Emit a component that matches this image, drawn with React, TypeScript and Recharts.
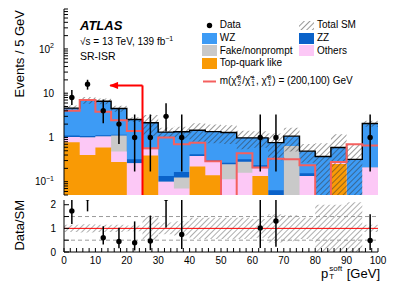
import React from 'react';
import {
  ComposedChart,
  Area,
  Line,
  Scatter,
  ErrorBar,
  XAxis,
  YAxis,
  ReferenceLine,
} from 'recharts';

// 5 GeV bins in pT^soft
const binLow = [0, 5, 10, 15, 20, 25, 30, 35, 40, 45, 50, 55, 60, 65, 70, 75, 80, 85, 90, 95];
const binCentre = [2.5, 7.5, 12.5, 17.5, 22.5, 27.5, 32.5, 37.5, 42.5, 47.5, 52.5, 57.5, 62.5, 67.5, 72.5, 77.5, 82.5, 87.5, 92.5, 97.5];

// background yields per bin (events / 5 GeV), bottom of stack first
const topQuark = [0.78, 0.4, 0.59, 0.28, 0, 0.39, 0, 0, 0.22, 0.14, 0, 0, 0.135, 0, 0, 0, 0, 0.25, 0, 0];
const others = [0.24, 0.6, 0.46, 0.2, 0.26, 0.15, 0.1, 0.07, 0.16, 0.15, 0.114, 0.16, 0.065, 0, 0, 0.135, 0, 0.033, 0, 0.21];
const fakes = [0, 0, 0, 0.62, 0, 0, 0, 0.054, 0, 0, 0.133, 0.124, 0, 0, 0.64, 0, 0, 0, 0, 0];
const zz = [0.08, 0.08, 0.07, 0.05, 0.06, 0.03, 0.035, 0.042, 0.035, 0.02, 0.02, 0.036, 0.035, 0.064, 0, 0.02, 0, 0, 0, 0];
const wz = [3.5, 5.92, 5.48, 3.35, 2.23, 1.57, 1.185, 1.18, 1.035, 1.04, 1.03, 0.66, 0.745, 0.7, 0.43, 0.335, 0.37, 0.31, 0.32, 1.85];
const systUnc = [0.15, 0.17, 0.15, 0.15, 0.12, 0.5, 0.25, 0.3, 0.45, 0.45, 0.45, 0.45, 0.4, 0.6, 0.55, 0.45, 1.0, 1.0, 1.1, 0.15];

// signal m(chi2/chi1+-, chi1) = (200,100) GeV
const signal = [4.0, 7.0, 3.8, 2.45, 1.4, 0.57, 1.0, 0.7, 0.76, 0.29, 0.045, 0.44, 0.21, 0.33, 0.32, 0.235, 0.045, 0.28, 0.7, 0.66];

// observed data
const dataCounts = [8, 16, 4, 2, 1, 1, 3, 1, 0, 0, 0, 0, 1, 1, 0, 0, 0, 0, 0, 1];
const dataErrDown = [2.57, 3.96, 1.91, 1.29, 0.83, 0.83, 1.63, 0.83, 0, 0, 0, 0, 0.83, 0.83, 0, 0, 0, 0, 0, 0.83];
const dataErrUp = [3.76, 4.13, 3.16, 2.64, 2.3, 2.3, 2.92, 2.3, 0, 0, 0, 0, 2.3, 2.3, 0, 0, 0, 0, 0, 2.3];

// SR-ISR cut arrow
const cutValue = 25;
const arrowLevel = 15;
const arrowTip = 14.7;

const xTicks = [0, 2, 4, 6, 8, 10, 12, 14, 16, 18, 20, 22, 24, 26, 28, 30, 32, 34, 36, 38, 40, 42, 44, 46, 48, 50, 52, 54, 56, 58, 60, 62, 64, 66, 68, 70, 72, 74, 76, 78, 80, 82, 84, 86, 88, 90, 92, 94, 96, 98, 100];
const mainYTicks = [0.05, 0.06, 0.07, 0.08, 0.09, 0.1, 0.2, 0.3, 0.4, 0.5, 0.6, 0.7, 0.8, 0.9, 1, 2, 3, 4, 5, 6, 7, 8, 9, 10, 20, 30, 40, 50, 60, 70, 80, 90, 100, 200, 300, 400, 500, 600, 700, 800];
const mainYLabels: Record<string, [string, string]> = {
  '0.1': ['10', '\u22121'],
  '1': ['1', ''],
  '10': ['10', ''],
  '100': ['10', '2'],
};
const ratioTicks = [0, 0.5, 1, 1.5, 2];

const FONT = '"Liberation Sans", Arial, Helvetica, sans-serif';
const C_WZ = '#3d9bf5';
const C_ZZ = '#0a62c9';
const C_FAKE = '#c9c9c9';
const C_OTH = '#fcc8f6';
const C_TOP = '#f99a05';
const C_SIG = '#f4605f';

const LOG_FLOOR = 1e-3;
const pos = (v: number) => (v > 0 ? v : LOG_FLOOR);

const stackRows = [...binLow, 100].map((x, k) => {
  const i = Math.min(k, binLow.length - 1);
  const c1 = topQuark[i];
  const c2 = c1 + others[i];
  const c3 = c2 + fakes[i];
  const c4 = c3 + zz[i];
  const total = c4 + wz[i];
  return {
    x,
    top: pos(c1),
    oth: pos(c2),
    fake: pos(c3),
    zz: pos(c4),
    total,
    band: [pos(total * (1 - systUnc[i])), total * (1 + systUnc[i])],
    ratioBand: [Math.max(1 - systUnc[i], 0), 1 + systUnc[i]],
    signal: signal[i],
  };
});

const dataPoints = binCentre
  .map((x, i) => ({ x, y: dataCounts[i], err: [dataErrDown[i], dataErrUp[i]] }))
  .filter((p) => p.y > 0);

const ratioPoints = binCentre
  .map((x, i) => {
    const total = stackRows[i].total;
    return { x, y: dataCounts[i] / total, err: [dataErrDown[i] / total, dataErrUp[i] / total] };
  })
  .filter((p) => p.y > 0);

const Dot = (p: any) => <circle cx={p.cx} cy={p.cy} r={2.7} fill="#000" />;

const LogTick = (p: any) => {
  const lab = mainYLabels[String(p.payload.value)];
  if (!lab) return <g />;
  return (
    <text x={p.x} y={p.y} dy={3.6} textAnchor="end" fontSize={10} fontFamily={FONT} fill="#000">
      {lab[0]}
      {lab[1] && (
        <tspan dy={-4.5} fontSize={7}>
          {lab[1]}
        </tspan>
      )}
    </text>
  );
};

const RatioTick = (p: any) => {
  const v = p.payload.value;
  if (v % 1 !== 0) return <g />;
  return (
    <text x={p.x} y={p.y} dy={3.6} textAnchor="end" fontSize={10} fontFamily={FONT} fill="#000">
      {v}
    </text>
  );
};

const ArrowShape = (p: any) => (
  <line x1={p.x1} y1={p.y1} x2={p.x2} y2={p.y2} stroke="#ff0000" strokeWidth={2} markerEnd="url(#arrowHead)" />
);

const SupSub = ({ sup, sub, size }: { sup: string; sub: string; size: number }) => (
  <span
    style={{
      display: 'inline-flex',
      flexDirection: 'column',
      fontSize: size,
      lineHeight: 1,
      verticalAlign: 'middle',
      margin: '0 1px',
    }}
  >
    <span>{sup}</span>
    <span>{sub}</span>
  </span>
);

const Swatch = ({ kind, color }: { kind: string; color?: string }) => (
  <svg width={15} height={11} style={{ marginRight: 3, flex: 'none' }}>
    {kind === 'box' && <rect x={0} y={0} width={15} height={11} fill={color} />}
    {kind === 'hatch' && <rect x={0} y={1} width={15} height={9} fill="url(#hatchDark)" />}
    {kind === 'dot' && <circle cx={7.5} cy={5.5} r={2.7} fill="#000" />}
    {kind === 'line' && <line x1={1} y1={5.5} x2={14} y2={5.5} stroke={C_SIG} strokeWidth={2} />}
  </svg>
);

const legendItems = [
  { left: 201.7, yc: 25, kind: 'dot', label: 'Data' },
  { left: 299, yc: 25, kind: 'hatch', label: 'Total SM' },
  { left: 201.7, yc: 38, kind: 'box', color: C_WZ, label: 'WZ' },
  { left: 299, yc: 38, kind: 'box', color: C_ZZ, label: 'ZZ' },
  { left: 201.7, yc: 50.7, kind: 'box', color: C_FAKE, label: 'Fake/nonprompt' },
  { left: 299, yc: 50.7, kind: 'box', color: C_OTH, label: 'Others' },
  { left: 201.7, yc: 63, kind: 'box', color: C_TOP, label: 'Top-quark like' },
];

const axisStroke = { stroke: '#000', strokeWidth: 1 };

export default function App() {
  return (
    <div style={{ position: 'absolute', left: 0, top: 0, width: 399, height: 286, background: '#fff', fontFamily: FONT, color: '#000' }}>
      <svg width={0} height={0} style={{ position: 'absolute' }}>
        <defs>
          <pattern id="hatchDark" width={4} height={4} patternUnits="userSpaceOnUse" patternTransform="rotate(45)">
            <line x1={0} y1={0} x2={0} y2={4} stroke="#333" strokeWidth={1} />
          </pattern>
          <pattern id="hatchLight" width={4} height={4} patternUnits="userSpaceOnUse" patternTransform="rotate(45)">
            <line x1={0} y1={0} x2={0} y2={4} stroke="#5e5e5e" strokeWidth={1} />
          </pattern>
          <marker id="arrowHead" viewBox="0 0 10 8" refX={9} refY={4} markerWidth={10} markerHeight={7} markerUnits="userSpaceOnUse" orient="auto">
            <path d="M0,0 L10,4 L0,8 z" fill="#ff0000" />
          </marker>
        </defs>
      </svg>

      <div style={{ position: 'absolute', left: 0, top: 0 }}>
        <ComposedChart width={399} height={200} data={stackRows} margin={{ top: 9, right: 21, bottom: 5, left: 0 }}>
          <XAxis dataKey="x" type="number" domain={[0, 100]} ticks={xTicks} interval={0} allowDataOverflow height={0} tick={false} tickSize={-4} axisLine={axisStroke} tickLine={axisStroke} />
          <XAxis xAxisId="top" orientation="top" type="number" domain={[0, 100]} ticks={xTicks} interval={0} allowDataOverflow height={0} tick={false} tickSize={-4} axisLine={axisStroke} tickLine={axisStroke} />
          <YAxis scale="log" type="number" domain={[0.05, 800]} allowDataOverflow ticks={mainYTicks} interval={0} width={64} tickSize={-4} tickMargin={14} tick={LogTick} axisLine={axisStroke} tickLine={axisStroke} />
          <YAxis yAxisId="r" orientation="right" scale="log" type="number" domain={[0.05, 800]} allowDataOverflow ticks={mainYTicks} interval={0} width={0} tick={false} tickSize={-4} axisLine={axisStroke} tickLine={axisStroke} />

          <Area dataKey="total" type="stepAfter" fill={C_WZ} fillOpacity={1} stroke="none" isAnimationActive={false} />
          <Area dataKey="zz" type="stepAfter" fill={C_ZZ} fillOpacity={1} stroke="none" isAnimationActive={false} />
          <Area dataKey="fake" type="stepAfter" fill={C_FAKE} fillOpacity={1} stroke="none" isAnimationActive={false} />
          <Area dataKey="oth" type="stepAfter" fill={C_OTH} fillOpacity={1} stroke="none" isAnimationActive={false} />
          <Area dataKey="top" type="stepAfter" fill={C_TOP} fillOpacity={1} stroke="none" isAnimationActive={false} />
          <Area dataKey="band" type="stepAfter" fill="url(#hatchDark)" fillOpacity={1} stroke="none" isAnimationActive={false} />
          <Line dataKey="total" type="stepAfter" stroke="#000" strokeWidth={1.4} dot={false} isAnimationActive={false} />
          <Line dataKey="signal" type="stepAfter" stroke={C_SIG} strokeWidth={2} dot={false} isAnimationActive={false} />

          <ReferenceLine segment={[{ x: cutValue, y: 0.05 }, { x: cutValue, y: arrowLevel }]} stroke="#ff0000" strokeWidth={2} ifOverflow="visible" />
          <ReferenceLine segment={[{ x: cutValue, y: arrowLevel }, { x: arrowTip, y: arrowLevel }]} ifOverflow="visible" shape={ArrowShape} />

          <Scatter data={dataPoints} dataKey="y" shape={Dot} isAnimationActive={false}>
            <ErrorBar dataKey="err" direction="y" width={0} stroke="#000" strokeWidth={1.5} isAnimationActive={false} />
          </Scatter>
        </ComposedChart>
      </div>

      <div style={{ position: 'absolute', left: 0, top: 200 }}>
        <ComposedChart width={399} height={86} data={stackRows} margin={{ top: 0, right: 21, bottom: 0, left: 0 }}>
          <XAxis
            dataKey="x"
            type="number"
            domain={[0, 100]}
            ticks={xTicks}
            interval={0}
            allowDataOverflow
            height={34}
            tickSize={-4}
            tickMargin={9}
            tickFormatter={(v: number) => (v % 10 === 0 ? String(v) : '')}
            tick={{ fontSize: 10, fill: '#000', fontFamily: FONT }}
            axisLine={axisStroke}
            tickLine={axisStroke}
          />
          <XAxis xAxisId="top" orientation="top" type="number" domain={[0, 100]} ticks={xTicks} interval={0} allowDataOverflow height={0} tick={false} tickSize={-4} axisLine={axisStroke} tickLine={axisStroke} />
          <YAxis type="number" domain={[0, 2.2]} allowDataOverflow ticks={ratioTicks} interval={0} width={64} tickSize={-5} tickMargin={13} tick={RatioTick} axisLine={axisStroke} tickLine={axisStroke} />
          <YAxis yAxisId="r" orientation="right" type="number" domain={[0, 2.2]} allowDataOverflow ticks={ratioTicks} interval={0} width={0} tick={false} tickSize={-5} axisLine={axisStroke} tickLine={axisStroke} />

          <Area dataKey="ratioBand" type="stepAfter" fill="url(#hatchLight)" fillOpacity={1} stroke="none" isAnimationActive={false} />
          <ReferenceLine y={0.5} stroke="#9a9a9a" strokeDasharray="4 3" />
          <ReferenceLine y={1.5} stroke="#9a9a9a" strokeDasharray="4 3" />
          <ReferenceLine y={1} stroke="#ff0000" strokeWidth={1} />

          <Scatter data={ratioPoints} dataKey="y" shape={Dot} isAnimationActive={false}>
            <ErrorBar dataKey="err" direction="y" width={0} stroke="#000" strokeWidth={1.5} isAnimationActive={false} />
          </Scatter>
        </ComposedChart>
      </div>

      <svg width={399} height={286} style={{ position: 'absolute', left: 0, top: 0, pointerEvents: 'none' }}>
        <text transform="translate(24,10) rotate(-90)" textAnchor="end" fontSize={13} fontFamily={FONT}>
          Events / 5 GeV
        </text>
        <text transform="translate(24,200) rotate(-90)" textAnchor="end" fontSize={13} fontFamily={FONT}>
          Data/SM
        </text>
        <text x={80} y={29.5} fontSize={13} fontWeight="bold" fontStyle="italic" fontFamily={FONT}>
          ATLAS
        </text>
        <text x={80} y={45} fontSize={10} fontFamily={FONT}>
          {'\u221As = 13 TeV, 139 fb'}
          <tspan dy={-4} fontSize={7}>
            {'\u22121'}
          </tspan>
        </text>
        <text x={80} y={60} fontSize={10.5} fontFamily={FONT}>
          SR-ISR
        </text>
      </svg>

      {legendItems.map((it) => (
        <div
          key={it.label}
          style={{ position: 'absolute', left: it.left, top: it.yc - 7, height: 14, display: 'flex', alignItems: 'center', fontSize: 10, lineHeight: '14px', whiteSpace: 'nowrap' }}
        >
          <Swatch kind={it.kind} color={it.color} />
          <span>{it.label}</span>
        </div>
      ))}
      <div style={{ position: 'absolute', left: 201.7, top: 73, height: 16, display: 'flex', alignItems: 'center', fontSize: 10, whiteSpace: 'nowrap' }}>
        <Swatch kind="line" />
        <span>
          m({'\u03C7\u0303'}
          <SupSub sup="0" sub="2" size={6.5} />/{'\u03C7\u0303'}
          <SupSub sup={'\u00B1'} sub="1" size={6.5} />, {'\u03C7\u0303'}
          <SupSub sup="0" sub="1" size={6.5} />) = (200,100) GeV
        </span>
      </div>

      <div style={{ position: 'absolute', right: 19, top: 264, height: 18, display: 'flex', alignItems: 'center', fontSize: 13, whiteSpace: 'nowrap' }}>
        <span>p</span>
        <SupSub sup="soft" sub="T" size={8} />
        <span>&nbsp;[GeV]</span>
      </div>
    </div>
  );
}
